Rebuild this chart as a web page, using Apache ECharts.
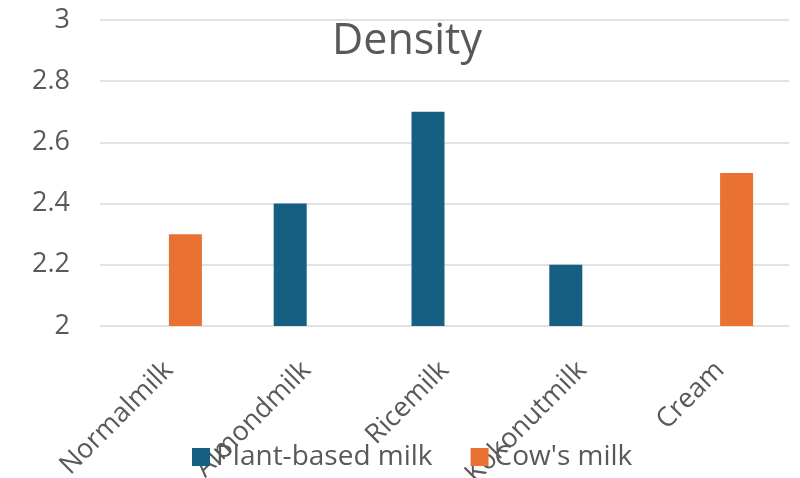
<!DOCTYPE html>
<html>
<head>
<meta charset="utf-8">
<script src="https://cdn.jsdelivr.net/npm/echarts@6/dist/echarts.min.js"></script>
<style>
  html, body { margin: 0; padding: 0; background: #fff; }
  #chart { width: 800px; height: 478px; }
</style>
</head>
<body>
<div id="chart"></div>
<script>
// Milk density by product
const categories = ['Normalmilk', 'Almondmilk', 'Ricemilk', 'Kokonutmilk', 'Cream'];
const plantBased = [null, 2.4, 2.7, 2.2, null];
const cowsMilk = [2.3, null, null, null, 2.5];
const yTicks = { min: 2, max: 3, interval: 0.2 };

const FONT = '"Open Sans", "Noto Sans", sans-serif';
const TEXT = '#595959';

const chart = echarts.init(document.getElementById('chart'), null, { renderer: 'canvas' });
chart.setOption({
  animation: false,
  backgroundColor: '#ffffff',
  title: {
    text: 'Density',
    left: 402,
    top: 15,
    textAlign: 'center',
    textStyle: { fontFamily: FONT, fontSize: 43, fontWeight: 'normal', color: TEXT }
  },
  legend: {
    top: 443,
    left: 192,
    padding: 0,
    z: 10,
    itemWidth: 18,
    itemHeight: 18,
    itemGap: 38,
    icon: 'rect',
    textStyle: { fontFamily: FONT, fontSize: 28, color: TEXT, padding: [0, 0, 0, 1] },
    data: ['Plant-based milk', "Cow's milk"]
  },
  grid: { left: 100, right: 11, top: 20, bottom: 152, containLabel: false, outerBoundsMode: 'none' },
  xAxis: {
    type: 'category',
    data: categories,
    axisLine: { show: false },
    axisTick: { show: false },
    axisLabel: {
      rotate: 45,
      margin: 40,
      interval: 0,
      hideOverlap: false,
      fontFamily: FONT,
      fontSize: 27,
      color: TEXT
    }
  },
  yAxis: {
    type: 'value',
    min: yTicks.min,
    max: yTicks.max,
    interval: yTicks.interval,
    axisLine: { show: false },
    axisTick: { show: false },
    splitLine: { lineStyle: { color: '#d9d9d9', width: 1.5 } },
    axisLabel: {
      margin: 30,
      fontFamily: FONT,
      fontSize: 27,
      color: TEXT,
      formatter: v => String(parseFloat(v.toFixed(1)))
    }
  },
  series: [
    {
      name: 'Plant-based milk',
      type: 'bar',
      data: plantBased,
      barWidth: 33,
      barGap: '0%',
      itemStyle: { color: '#156082' }
    },
    {
      name: "Cow's milk",
      type: 'bar',
      data: cowsMilk,
      barWidth: 33,
      barGap: '0%',
      itemStyle: { color: '#E97132' }
    }
  ]
});
</script>
</body>
</html>
